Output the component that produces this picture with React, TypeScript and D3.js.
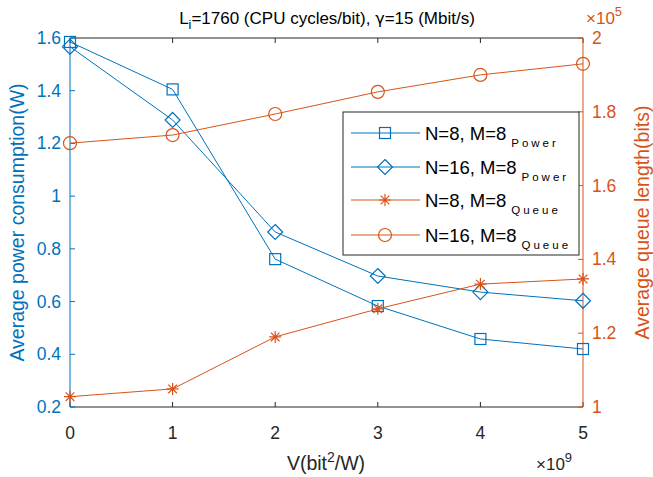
import React from "react";
import * as d3 from "d3";

const vValues = [0, 1, 2, 3, 4, 5];
const powerN8 = [1.585, 1.405, 0.761, 0.583, 0.458, 0.42];
const powerN16 = [1.567, 1.289, 0.864, 0.697, 0.636, 0.603];
const queueN8 = [1.028, 1.049, 1.19, 1.266, 1.333, 1.347]; // x1e5
const queueN16 = [1.715, 1.737, 1.794, 1.854, 1.9, 1.93]; // x1e5
const xTicks = [0, 1, 2, 3, 4, 5];
const leftTicks = [0.2, 0.4, 0.6, 0.8, 1, 1.2, 1.4, 1.6];
const rightTicks = [1, 1.2, 1.4, 1.6, 1.8, 2];
const legendLabels = [
  { main: "N=8, M=8", sub: "Power" },
  { main: "N=16, M=8", sub: "Power" },
  { main: "N=8, M=8", sub: "Queue" },
  { main: "N=16, M=8", sub: "Queue" },
];

const BLUE = "#0072BD";
const ORANGE = "#D95319";
const AX = "#262626";
const FONT = "'Liberation Sans', Arial, Helvetica, sans-serif";

const L = 70, R = 583, T = 38, B = 407;
const TICK_FS = 17.5;
const LABEL_FS = 19.5;

function Marker({ type, x, y, color }: { type: string; x: number; y: number; color: string }) {
  if (type === "square") return <rect x={x - 5.5} y={y - 5.5} width={11} height={11} fill="none" stroke={color} strokeWidth={1.2} />;
  if (type === "diamond") return <path d={`M${x},${y - 7.5}L${x + 7.5},${y}L${x},${y + 7.5}L${x - 7.5},${y}Z`} fill="none" stroke={color} strokeWidth={1.2} />;
  if (type === "circle") return <circle cx={x} cy={y} r={6.5} fill="none" stroke={color} strokeWidth={1.2} />;
  const s = 6;
  const d = s * 0.72;
  return (
    <path
      d={`M${x},${y - s}L${x},${y + s}M${x - s},${y}L${x + s},${y}M${x - d},${y - d}L${x + d},${y + d}M${x - d},${y + d}L${x + d},${y - d}`}
      stroke={color}
      strokeWidth={1.2}
      fill="none"
    />
  );
}

export default function App() {
  const x = d3.scaleLinear().domain([0, 5]).range([L, R]);
  const yL = d3.scaleLinear().domain([0.2, 1.6]).range([B, T]);
  const yR = d3.scaleLinear().domain([1, 2]).range([B, T]);

  const series = [
    { data: powerN8, y: yL, color: BLUE, marker: "square" },
    { data: powerN16, y: yL, color: BLUE, marker: "diamond" },
    { data: queueN8, y: yR, color: ORANGE, marker: "asterisk" },
    { data: queueN16, y: yR, color: ORANGE, marker: "circle" },
  ];

  const legX = 343, legY = 112, legW = 236, legH = 143;
  const rowY = [133, 167, 200, 235];

  return (
    <svg width={653} height={477} style={{ position: "absolute", left: 0, top: 0, background: "#fff" }} fontFamily={FONT}>
      <rect x={0} y={0} width={653} height={477} fill="#fff" />
      <line x1={L} x2={R} y1={T} y2={T} stroke={AX} strokeWidth={1} />
      <line x1={L} x2={R} y1={B} y2={B} stroke={AX} strokeWidth={1} />
      {xTicks.map((t) => (
        <g key={"xt" + t}>
          <line x1={x(t)} x2={x(t)} y1={B} y2={B - 5} stroke={AX} />
          <line x1={x(t)} x2={x(t)} y1={T} y2={T + 5} stroke={AX} />
          <text x={x(t)} y={B + 32} textAnchor="middle" fontSize={TICK_FS} fill={AX}>{t}</text>
        </g>
      ))}
      <line x1={L} x2={L} y1={T} y2={B} stroke={BLUE} strokeWidth={1} />
      {leftTicks.map((t) => (
        <g key={"lt" + t}>
          <line x1={L} x2={L + 5} y1={yL(t)} y2={yL(t)} stroke={BLUE} />
          <text x={L - 9} y={yL(t) + 6} textAnchor="end" fontSize={TICK_FS} fill={BLUE}>{t}</text>
        </g>
      ))}
      <line x1={R} x2={R} y1={T} y2={B} stroke={ORANGE} strokeWidth={1} />
      {rightTicks.map((t) => (
        <g key={"rt" + t}>
          <line x1={R} x2={R - 5} y1={yR(t)} y2={yR(t)} stroke={ORANGE} />
          <text x={R + 9} y={yR(t) + 6} textAnchor="start" fontSize={TICK_FS} fill={ORANGE}>{t}</text>
        </g>
      ))}
      {series.map((s, i) => {
        const line = d3.line<number>().x((_, j) => x(vValues[j])).y((d) => s.y(d));
        return (
          <g key={"s" + i}>
            <path d={line(s.data) || ""} fill="none" stroke={s.color} strokeWidth={1} />
            {s.data.map((d, j) => (
              <Marker key={j} type={s.marker} x={x(vValues[j])} y={s.y(d)} color={s.color} />
            ))}
          </g>
        );
      })}
      <rect x={legX} y={legY} width={legW} height={legH} fill="#fff" stroke={AX} strokeWidth={1} />
      {series.map((s, i) => (
        <g key={"lg" + i}>
          <line x1={351} x2={420} y1={rowY[i]} y2={rowY[i]} stroke={s.color} strokeWidth={1} />
          <Marker type={s.marker} x={385} y={rowY[i]} color={s.color} />
          <text x={425} y={rowY[i] + 7} fontSize={18.5} fill="#000">
            {legendLabels[i].main}
            <tspan dx={5} dy={7} fontSize={11.5} letterSpacing={3}>{legendLabels[i].sub}</tspan>
          </text>
        </g>
      ))}
      <text x={327} y={24} textAnchor="middle" fontSize={17} fill="#000">
        L<tspan dy={5} fontSize={12.5}>i</tspan>
        <tspan dy={-5}>=1760 (CPU cycles/bit),  </tspan>
        <tspan fontFamily="'DejaVu Sans', sans-serif" fontSize={16}>γ</tspan>
        <tspan>=15 (Mbit/s)</tspan>
      </text>
      <text x={586} y={24} fontSize={17} fill={ORANGE}>
        ×10<tspan dy={-8} fontSize={13}>5</tspan>
      </text>
      <text x={536} y={470} fontSize={17} fill={AX}>
        ×10<tspan dy={-8} fontSize={13}>9</tspan>
      </text>
      <text x={326} y={470} textAnchor="middle" fontSize={LABEL_FS} fill={AX}>
        V(bit<tspan dy={-8} fontSize={14}>2</tspan><tspan dy={8}>/W)</tspan>
      </text>
      <text transform={`translate(24,${(T + B) / 2}) rotate(-90)`} textAnchor="middle" fontSize={LABEL_FS} fill={BLUE}>
        Average power consumption(W)
      </text>
      <text transform={`translate(649,${(T + B) / 2}) rotate(-90)`} textAnchor="middle" fontSize={LABEL_FS} fill={ORANGE}>
        Average queue length(bits)
      </text>
    </svg>
  );
}
